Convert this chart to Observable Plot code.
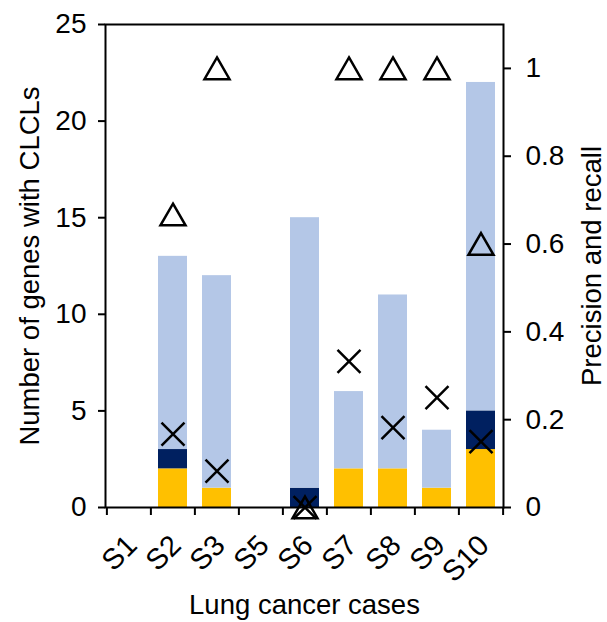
<!DOCTYPE html>
<html><head><meta charset="utf-8">
<script src="https://cdn.jsdelivr.net/npm/d3@7"></script>
<script src="https://cdn.jsdelivr.net/npm/@observablehq/plot@0.6"></script>
<style>body{margin:0;background:#fff}</style>
</head><body><div id="chart"></div>
<script>
const cases = ["S1","S2","S3","S5","S6","S7","S8","S9","S10"];
const truePositives  = [0, 2, 1, 0, 0, 2, 2, 1, 3];
const falsePositives = [0, 1, 0, 0, 1, 0, 0, 0, 2];
const falseNegatives = [0, 10, 11, 0, 14, 4, 9, 3, 17];
const precision = [null, 0.667, 1, null, 0, 1, 1, 1, 0.6];
const recall    = [null, 0.167, 0.083, null, 0, 0.333, 0.182, 0.25, 0.15];
const leftTicks  = [0, 5, 10, 15, 20, 25];
const rightTicks = [0, 0.2, 0.4, 0.6, 0.8, 1];
const seriesNames  = ["True positives", "False positives", "False negatives"];
const seriesColors = ["#FFC000", "#002060", "#B4C7E7"];
const xTitle = "Lung cancer cases";
const yTitle = "Number of genes with CLCLs";
const y2Title = "Precision and recall";

const W = 607, H = 622, mL = 105, mR = 104, mT = 24, mB = 115;
const yMax = 25, rMax = 1.1;
const toLeft = v => v * yMax / rMax;
const step = (W - mL - mR) / cases.length;

const stacked = [];
[truePositives, falsePositives, falseNegatives].forEach((arr, k) =>
  arr.forEach((v, i) => { if (v > 0) stacked.push({case: cases[i], series: seriesNames[k], value: v}); }));
const pts = cases.map((c, i) => ({case: c, precision: precision[i], recall: recall[i]}));

const font = "'Liberation Sans', Arial, sans-serif";
const chart = Plot.plot({
  width: W, height: H,
  marginLeft: mL, marginRight: mR, marginTop: mT, marginBottom: mB,
  style: {fontFamily: font, fontSize: "28px", color: "black", background: "white"},
  x: {type: "band", domain: cases, paddingInner: 0.344, paddingOuter: 0.172},
  y: {domain: [0, yMax]},
  color: {domain: seriesNames, range: seriesColors},
  marks: [
    Plot.barY(stacked, {x: "case", y: "value", fill: "series"}),
    Plot.ruleX(cases, {x: d => d, dx: -step / 2, y1: 0, y2: 0, insetBottom: -8, stroke: "black", strokeWidth: 2}),
    Plot.ruleX(cases.slice(-1), {x: d => d, dx: step / 2, y1: 0, y2: 0, insetBottom: -8, stroke: "black", strokeWidth: 2}),
    Plot.frame({stroke: "black", strokeWidth: 2}),
    Plot.axisY({anchor: "left", ticks: leftTicks, tickSize: 7, tickPadding: 12, label: null, strokeWidth: 2}),
    Plot.axisY({anchor: "right", ticks: rightTicks.map(toLeft), tickSize: 7, tickPadding: 15, label: null, strokeWidth: 2,
      tickFormat: d => String(Math.round(d * rMax / yMax * 10) / 10)}),
    Plot.axisX({anchor: "bottom", tickSize: 0, tickPadding: 33, tickRotate: -45, label: null, dx: 3, fontSize: 29}),
    Plot.dot(pts.filter(d => d.precision != null), {x: "case", y: d => toLeft(d.precision), symbol: "triangle", r: 9.3, stroke: "black", strokeWidth: 2.5, fill: "none", dy: 3.5}),
    Plot.dot(pts.filter(d => d.recall != null), {x: "case", y: d => toLeft(d.recall), symbol: "times", r: 10.5, stroke: "black", strokeWidth: 2.5}),
    Plot.text([xTitle], {text: d => d, frameAnchor: "bottom", dy: 98, lineAnchor: "middle", textAnchor: "middle", fontSize: 27.5, fill: "black"}),
    Plot.text([yTitle], {text: d => d, frameAnchor: "left", dx: -75, rotate: -90, lineAnchor: "middle", textAnchor: "middle", fontSize: 27.5, fill: "black"}),
    Plot.text([y2Title], {text: d => d, frameAnchor: "right", dx: 89, rotate: -90, lineAnchor: "middle", textAnchor: "middle", fontSize: 27.5, fill: "black"})
  ]
});
document.getElementById("chart").appendChild(chart);
</script>
</body></html>
